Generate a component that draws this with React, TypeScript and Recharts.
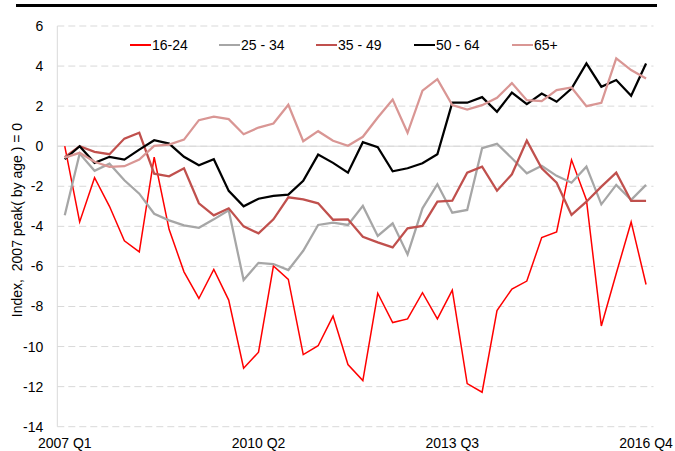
import React from 'react';
import { LineChart, Line, XAxis, YAxis, CartesianGrid, ReferenceLine, Legend } from 'recharts';

const FONT = '"Liberation Sans", Arial, sans-serif';

const quarters = [
  '2007 Q1', '2007 Q2', '2007 Q3', '2007 Q4',
  '2008 Q1', '2008 Q2', '2008 Q3', '2008 Q4',
  '2009 Q1', '2009 Q2', '2009 Q3', '2009 Q4',
  '2010 Q1', '2010 Q2', '2010 Q3', '2010 Q4',
  '2011 Q1', '2011 Q2', '2011 Q3', '2011 Q4',
  '2012 Q1', '2012 Q2', '2012 Q3', '2012 Q4',
  '2013 Q1', '2013 Q2', '2013 Q3', '2013 Q4',
  '2014 Q1', '2014 Q2', '2014 Q3', '2014 Q4',
  '2015 Q1', '2015 Q2', '2015 Q3', '2015 Q4',
  '2016 Q1', '2016 Q2', '2016 Q3', '2016 Q4',
];

const age16to24 = [
  0, -3.78, -1.57, -3.0, -4.72, -5.27, -0.55, -4.15, -6.27, -7.6,
  -6.15, -7.68, -11.08, -10.28, -5.98, -6.65, -10.4, -9.96, -8.48, -10.9,
  -11.7, -7.34, -8.8, -8.62, -7.31, -8.62, -7.18, -11.85, -12.28, -8.2,
  -7.13, -6.73, -4.56, -4.28, -0.68, -2.68, -8.97, -6.35, -3.78, -6.9,
];

const age25to34 = [
  -3.45, -0.37, -1.23, -0.87, -1.7, -2.37, -3.37, -3.7, -3.95, -4.07,
  -3.65, -3.2, -6.68, -5.82, -5.88, -6.18, -5.22, -3.93, -3.82, -3.93,
  -2.98, -4.48, -3.85, -5.4, -3.1, -1.9, -3.32, -3.18, -0.1, 0.12,
  -0.6, -1.35, -0.98, -1.48, -1.82, -1.02, -2.9, -1.93, -2.68, -1.93,
];

const age35to49 = [
  -0.55, 0, -0.28, -0.4, 0.38, 0.67, -1.37, -1.5, -1.1, -2.85,
  -3.45, -3.1, -4.0, -4.35, -3.65, -2.55, -2.65, -2.85, -3.67, -3.65,
  -4.52, -4.8, -5.05, -4.1, -3.98, -2.77, -2.72, -1.32, -1.02, -2.22,
  -1.4, 0.28, -1.1, -1.82, -3.43, -2.77, -2.02, -1.32, -2.73, -2.73,
];

const age50to64 = [
  -0.65, 0, -0.83, -0.53, -0.67, -0.17, 0.3, 0.13, -0.53, -0.95,
  -0.65, -2.23, -3.0, -2.62, -2.48, -2.42, -1.73, -0.42, -0.83, -1.32,
  0.2, -0.05, -1.25, -1.1, -0.85, -0.4, 2.17, 2.17, 2.45, 1.72,
  2.68, 2.1, 2.63, 2.22, 2.88, 4.13, 2.97, 3.3, 2.52, 4.13,
];

const age65plus = [
  -0.57, -0.33, -0.78, -1.03, -1.0, -0.67, 0.02, 0.08, 0.33, 1.3,
  1.47, 1.35, 0.6, 0.93, 1.13, 2.07, 0.25, 0.75, 0.27, 0.02,
  0.47, 1.43, 2.33, 0.67, 2.77, 3.35, 2.05, 1.83, 2.05, 2.42,
  3.15, 2.3, 2.25, 2.8, 2.93, 2.0, 2.17, 4.38, 3.8, 3.38,
];

const seriesNames = ['16-24', '25 - 34', '35 - 49', '50 - 64', '65+'];
const yTicks = [-14, -12, -10, -8, -6, -4, -2, 0, 2, 4, 6];
const yLabel = 'Index,\u00A0 2007 peak( by age ) = 0';

const data = quarters.map((q, i) => ({
  quarter: q,
  s1: age16to24[i],
  s2: age25to34[i],
  s3: age35to49[i],
  s4: age50to64[i],
  s5: age65plus[i],
}));

const SERIES = [
  { key: 's1', name: seriesNames[0], color: '#FF0000', width: 1.5, legendLeft: 130 },
  { key: 's2', name: seriesNames[1], color: '#A6A6A6', width: 2.25, legendLeft: 219 },
  { key: 's3', name: seriesNames[2], color: '#C0504D', width: 2.25, legendLeft: 316 },
  { key: 's4', name: seriesNames[3], color: '#000000', width: 2.25, legendLeft: 414 },
  { key: 's5', name: seriesNames[4], color: '#D99694', width: 2.25, legendLeft: 512 },
];

const renderLegend = () => (
  <div style={{ position: 'relative', width: 675, height: 20, fontFamily: FONT, fontSize: 14, color: '#000' }}>
    {SERIES.map((s) => (
      <div
        key={s.key}
        style={{
          position: 'absolute',
          left: s.legendLeft,
          top: 0,
          height: 20,
          display: 'flex',
          alignItems: 'center',
          whiteSpace: 'nowrap',
        }}
      >
        <span style={{ display: 'inline-block', width: 21, height: s.width, background: s.color }} />
        <span style={{ marginLeft: 1 }}>{s.name}</span>
      </div>
    ))}
  </div>
);

export default function App() {
  return (
    <div style={{ position: 'absolute', left: 0, top: 0, width: 675, height: 451, background: '#fff' }}>
      <div style={{ position: 'absolute', left: 16, top: 4.3, width: 641, height: 2.4, background: '#000' }} />
      <LineChart
        width={675}
        height={451}
        data={data}
        margin={{ top: 26, right: 21.5, bottom: 0, left: 0 }}
      >
        <CartesianGrid vertical={false} stroke="#D9D9D9" strokeDasharray="7 4" />
        <XAxis
          dataKey="quarter"
          interval={12}
          padding={{ left: 7.45, right: 7.45 }}
          axisLine={false}
          tickLine={false}
          tickSize={0}
          tickMargin={11}
          height={24.3}
          tick={{ fill: '#000', fontSize: 14, fontFamily: FONT }}
        />
        <YAxis
          domain={[-14, 6]}
          ticks={yTicks}
          width={57.3}
          axisLine={{ stroke: '#D9D9D9' }}
          tickLine={false}
          tickSize={0}
          tickMargin={14}
          tick={{ fill: '#000', fontSize: 14, fontFamily: FONT }}
          label={{
            value: yLabel,
            angle: -90,
            position: 'center',
            dx: -11.6,
            dy: -6.3,
            style: { fill: '#000', fontSize: 14, fontFamily: FONT, textAnchor: 'middle' },
          }}
        />
        <ReferenceLine y={0} stroke="#D9D9D9" strokeWidth={1} />
        <Legend
          layout="horizontal"
          verticalAlign="middle"
          align="center"
          content={renderLegend}
          wrapperStyle={{ top: 35, left: 0, width: 675, height: 20 }}
        />
        {SERIES.map((s) => (
          <Line
            key={s.key}
            type="linear"
            dataKey={s.key}
            name={s.name}
            stroke={s.color}
            strokeWidth={s.width}
            dot={false}
            activeDot={false}
            isAnimationActive={false}
          />
        ))}
      </LineChart>
    </div>
  );
}
